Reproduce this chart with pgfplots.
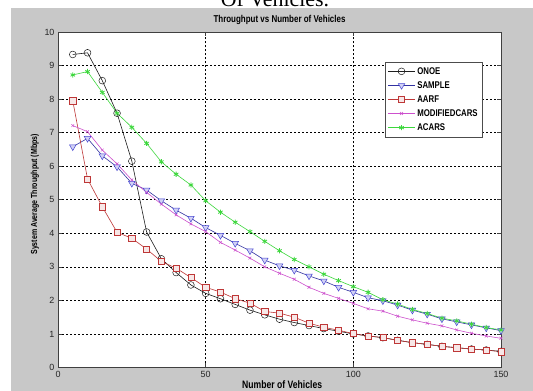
\documentclass[border=0pt]{standalone}
\usepackage{fontspec}
\setmainfont{Liberation Sans}
\newfontfamily\serifcap{Liberation Serif}
\newfontfamily\cond[FakeStretch=0.8]{Liberation Sans}
\usepackage{pgfplots}
\usepackage{pgfplotstable}
\pgfplotsset{compat=1.18}
\definecolor{mgray}{RGB}{200,200,200}
\definecolor{onoec}{RGB}{30,30,30}
\definecolor{samplel}{RGB}{50,50,160}
\definecolor{samplem}{RGB}{70,70,210}
\definecolor{aarfc}{RGB}{190,55,55}
\definecolor{modc}{RGB}{205,80,205}
\definecolor{acarsc}{RGB}{60,215,60}
\pgfplotstableread{
x onoe sample aarf mod acars
5 9.33 6.58 7.95 7.21 8.72
10 9.38 6.83 5.62 7.03 8.82
15 8.55 6.31 4.79 6.48 8.20
20 7.58 5.98 4.03 6.07 7.58
25 6.15 5.49 3.85 5.59 7.16
30 4.04 5.29 3.53 5.22 6.68
35 3.24 4.97 3.16 4.87 6.13
40 2.83 4.69 2.96 4.55 5.76
45 2.46 4.45 2.68 4.28 5.44
50 2.21 4.17 2.39 4.05 4.97
55 2.05 3.94 2.25 3.73 4.63
60 1.88 3.70 2.05 3.50 4.33
65 1.71 3.48 1.92 3.26 4.05
70 1.57 3.20 1.67 3.00 3.76
75 1.44 3.03 1.62 2.81 3.48
80 1.34 2.90 1.50 2.63 3.22
85 1.25 2.73 1.32 2.39 3.00
90 1.16 2.58 1.20 2.21 2.78
95 1.08 2.39 1.11 2.06 2.59
100 1.00 2.24 1.01 1.91 2.41
105 0.94 2.08 0.94 1.75 2.24
110 0.89 1.99 0.89 1.68 2.02
115 0.81 1.86 0.81 1.53 1.89
120 0.74 1.71 0.74 1.42 1.73
125 0.69 1.59 0.69 1.32 1.61
130 0.63 1.45 0.63 1.24 1.47
135 0.59 1.36 0.59 1.12 1.39
140 0.55 1.27 0.55 1.02 1.29
145 0.52 1.18 0.52 0.94 1.19
150 0.48 1.10 0.47 0.87 1.12
}\datatable
\begin{document}
\begin{tikzpicture}
\useasboundingbox (0bp,0bp) rectangle (533bp,391bp);
\fill[mgray] (11bp,0bp) rectangle (533bp,382.7bp);
\node[anchor=base, font=\serifcap\fontsize{22}{22}\selectfont] at (275bp,384.5bp) {Of Vehicles.};
\begin{axis}[
  at={(58bp,23.5bp)}, anchor=south west,
  scale only axis, width=443bp, height=335.5bp,
  xmin=0, xmax=150, ymin=0, ymax=10,
  xtick={0,50,100,150}, ytick={0,1,...,10},
  axis background/.style={fill=white},
  axis line style={black!75, line width=0.7bp},
  tick align=inside, major tick length=4bp,
  tick style={black!75, line width=0.5bp},
  grid=major,
  major grid style={black, line width=0.5bp, dash pattern=on 2bp off 2bp},
  /pgf/number format/assume math mode=true,
  tick label style={font=\fontsize{9}{9}\selectfont, text=black!85},
  title={\cond\bfseries Throughput vs Number of Vehicles},
  title style={at={(0.5,1)}, anchor=center, yshift=6bp, font=\fontsize{10}{10}\selectfont},
  xlabel={\cond\bfseries Number of Vehicles},
  xlabel style={at={(axis description cs:0.506,-0.052)}, anchor=center, font=\fontsize{10.8}{10.8}\selectfont},
  ylabel={\cond\bfseries System Average Throughput (Mbps)},
  ylabel style={at={(axis description cs:-0.052,0.516)}, anchor=center, font=\fontsize{8.8}{8.8}\selectfont},
  legend style={at={(0.959,0.9106)}, anchor=north east, draw=black!70, fill=white,
    font=\cond\bfseries\fontsize{9.8}{9.8}\selectfont, row sep=1.8bp, inner sep=3bp},
  legend cell align=left,
  legend image code/.code={\draw[mark repeat=2, mark phase=2] plot coordinates {(0bp,0bp) (13.5bp,0bp) (27bp,0bp)};},
]
\addplot[onoec, line width=0.6bp, mark=o, mark size=3.4bp, mark options={onoec, line width=0.5bp}] table[x=x,y=onoe] {\datatable};
\addlegendentry{ONOE}
\addplot[samplel, line width=0.6bp, mark=triangle*, mark size=3.8bp, mark options={draw=samplem, fill=samplem!25, rotate=180, line width=0.5bp}] table[x=x,y=sample] {\datatable};
\addlegendentry{SAMPLE}
\addplot[aarfc, line width=0.6bp, mark=square*, mark size=3.1bp, mark options={draw=aarfc, fill=aarfc!12, line width=0.5bp}] table[x=x,y=aarf] {\datatable};
\addlegendentry{AARF}
\addplot[modc, line width=0.6bp, mark=x, mark size=2bp, mark options={modc, line width=0.5bp}] table[x=x,y=mod] {\datatable};
\addlegendentry{MODIFIEDCARS}
\addplot[acarsc, line width=0.6bp, mark=asterisk, mark size=2.6bp, mark options={acarsc, line width=0.8bp}] table[x=x,y=acars] {\datatable};
\addlegendentry{ACARS}
\end{axis}
\end{tikzpicture}
\end{document}
